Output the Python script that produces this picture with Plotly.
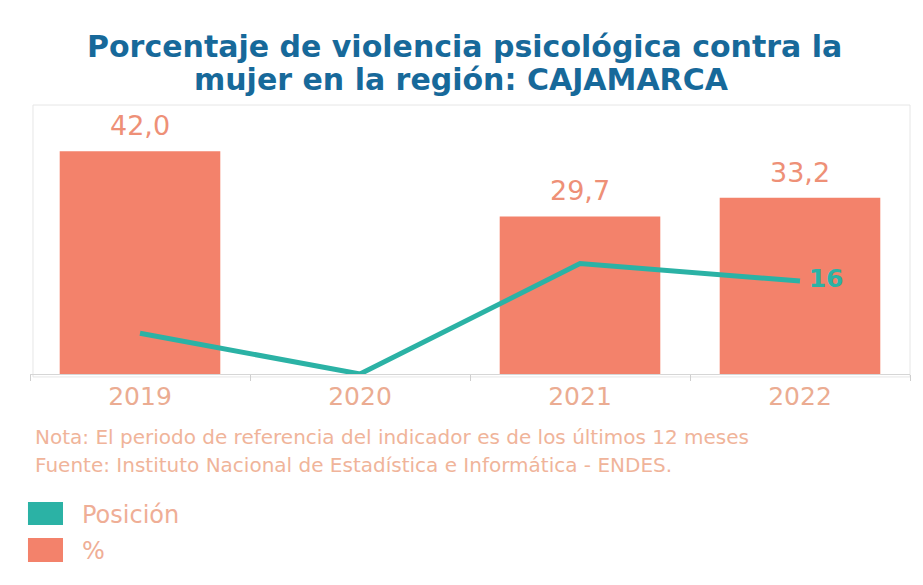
import plotly.graph_objects as go

years = ["2019", "2020", "2021", "2022"]
pct_values = [42.0, None, 29.7, 33.2]
pct_labels = ["42,0", "", "29,7", "33,2"]
position_values = [7, 0, 19, 16]
position_labels = ["", "", "", "16"]

title_line1 = "Porcentaje de violencia psicológica contra la"
title_line2 = "mujer en la región: CAJAMARCA"
note_text = "Nota: El periodo de referencia del indicador es de los últimos 12 meses"
source_text = "Fuente: Instituto Nacional de Estadística e Informática - ENDES."
legend_names = ["Posición", "%"]

BAR_COLOR = "#F3826B"
LINE_COLOR = "#2BB2A5"
TITLE_COLOR = "#17699A"
LIGHT_TEXT = "#F0B49A"
FONT = "DejaVu Sans, Verdana, sans-serif"

fig = go.Figure()
fig.add_trace(go.Bar(
    x=years, y=pct_values, name=legend_names[1],
    marker=dict(color=BAR_COLOR, line=dict(width=0)),
    showlegend=False, hoverinfo="x+y",
))
fig.add_trace(go.Scatter(
    x=years, y=position_values, name=legend_names[0], yaxis="y2",
    mode="lines+text", line=dict(color=LINE_COLOR, width=5),
    text=position_labels, texttemplate=" %{text}", textposition="middle right",
    textfont=dict(color=LINE_COLOR, size=25, family=FONT, weight="bold"),
    cliponaxis=False, showlegend=False,
))

annotations = []
for i, (v, lab) in enumerate(zip(pct_values, pct_labels)):
    if v is not None:
        annotations.append(dict(
            x=i, y=v, xref="x", yref="y", text=lab, showarrow=False,
            yanchor="bottom", yshift=8,
            font=dict(family=FONT, size=27, color="#EE9077")))

annotations += [
    dict(text="<b>" + title_line1 + "</b>", xref="paper", yref="paper", x=0.494, y=1.216,
         xanchor="center", yanchor="middle", showarrow=False,
         font=dict(family=FONT, size=30, color=TITLE_COLOR)),
    dict(text="<b>" + title_line2 + "</b>", xref="paper", yref="paper", x=0.49, y=1.093,
         xanchor="center", yanchor="middle", showarrow=False,
         font=dict(family=FONT, size=30, color=TITLE_COLOR)),
    dict(text=note_text, xref="paper", yref="paper", x=0.0034, y=-0.234,
         xanchor="left", yanchor="middle", showarrow=False,
         font=dict(family=FONT, size=20, color=LIGHT_TEXT)),
    dict(text=source_text, xref="paper", yref="paper", x=0.0034, y=-0.338,
         xanchor="left", yanchor="middle", showarrow=False,
         font=dict(family=FONT, size=20, color=LIGHT_TEXT)),
    dict(text=legend_names[0], xref="paper", yref="paper", x=0.0568, y=-0.524,
         xanchor="left", yanchor="middle", showarrow=False,
         font=dict(family=FONT, size=24, color="#EFAE96")),
    dict(text=legend_names[1], xref="paper", yref="paper", x=0.0568, y=-0.658,
         xanchor="left", yanchor="middle", showarrow=False,
         font=dict(family=FONT, size=24, color="#EFAE96")),
]

fig.update_layout(
    width=915, height=577,
    margin=dict(l=22, r=13, t=97, b=211),
    paper_bgcolor="white", plot_bgcolor="white",
    bargap=0.27,
    xaxis=dict(type="category", range=[-0.5, 3.5], showline=True, linecolor="#D6D6D6", linewidth=1,
               ticks="outside", tickson="boundaries", ticklen=6, tickcolor="#CFCFCF",
               tickfont=dict(family=FONT, size=25, color="#EBAC92"),
               showgrid=False, zeroline=False),
    yaxis=dict(range=[0, 50.7], visible=False, showgrid=False, zeroline=False),
    yaxis2=dict(range=[0, 46.3], overlaying="y", visible=False, showgrid=False, zeroline=False),
    shapes=[
        dict(type="rect", xref="paper", yref="paper", x0=0.0034, x1=1.0, y0=-0.011, y1=1.0,
             line=dict(color="#E6E6E6", width=1), layer="below"),
        dict(type="rect", xref="paper", yref="paper",
             x0=-0.0023, x1=0.0375, y0=-0.561, y1=-0.476,
             fillcolor=LINE_COLOR, line=dict(width=0)),
        dict(type="rect", xref="paper", yref="paper",
             x0=-0.0023, x1=0.0375, y0=-0.699, y1=-0.610,
             fillcolor=BAR_COLOR, line=dict(width=0)),
    ],
    annotations=annotations,
)

fig.write_html("out.html")
